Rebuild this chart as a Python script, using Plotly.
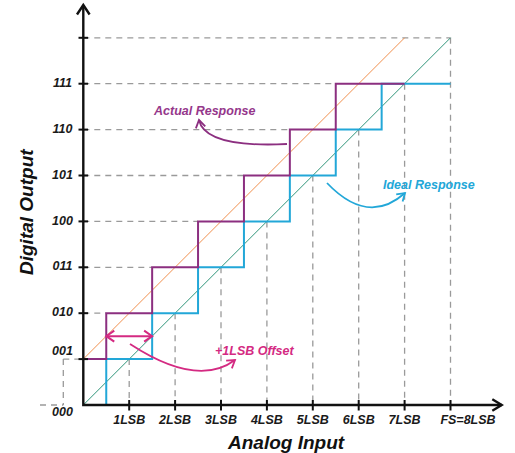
import plotly.graph_objects as go
import numpy as np

# ---------------- data ----------------
codes = ["000", "001", "010", "011", "100", "101", "110", "111"]
x_tick_labels = ["1LSB", "2LSB", "3LSB", "4LSB", "5LSB", "6LSB", "7LSB", "FS=8LSB"]
x_tick_values = [1, 2, 3, 4, 5, 6, 7, 8]
ideal_transitions = [0.5, 1.5, 2.5, 3.5, 4.5, 5.5, 6.5]      # LSB where ideal code steps up
actual_transitions = [0.5, 1.5, 2.5, 3.5, 4.5, 5.5]          # LSB where actual code steps up
actual_start_code = 1                                         # +1LSB offset
full_scale = 8
actual_end = 7

# ---------------- geometry helpers ----------------
OX, OY, S = 83.3, 405.0, 45.9
def X(px): return (px - OX) / S
def Y(py): return (OY - py) / S

FONT = "Liberation Sans"
PURPLE = "#8c2f80"
PURPLE_T = "#95378b"
CYAN = "#22a7d8"
MAGENTA = "#d42a82"
ORANGE = "#f0904e"
TEAL = "#2f957a"
GRAY = "#9a9a9a"

fig = go.Figure()

n = len(codes)
levels = list(range(n))

# ---------------- dashed guide lines ----------------
def dline(x0, y0, x1, y1):
    fig.add_trace(go.Scatter(x=[x0, x1], y=[y0, y1], mode="lines",
                             line=dict(color=GRAY, width=1.3, dash="6px,5px"),
                             hoverinfo="skip"))

# horizontal from axis to actual staircase
for lv, xt in zip(levels[2:], actual_transitions):
    dline(0, lv, xt, lv)
dline(0, full_scale, full_scale, full_scale)
# vertical from ideal diagonal down to the axis
for xv in x_tick_values:
    dline(xv, xv, xv, 0)
# left-side offset guides
xl = X(63.3)
dline(xl, 1, 0, 1)
dline(xl, 1, xl, 0)
dline(X(40), 0, xl, 0)

# ---------------- diagonals ----------------
fig.add_trace(go.Scatter(x=[0, actual_end], y=[actual_start_code, actual_end + actual_start_code],
                         mode="lines", line=dict(color=ORANGE, width=1), hoverinfo="skip"))
fig.add_trace(go.Scatter(x=[0, full_scale], y=[0, full_scale],
                         mode="lines", line=dict(color=TEAL, width=1), hoverinfo="skip"))

# ---------------- staircases ----------------
ideal_x = [0] + ideal_transitions + [full_scale]
ideal_y = levels + [levels[-1]]
fig.add_trace(go.Scatter(x=ideal_x, y=ideal_y, mode="lines", line_shape="hv",
                         line=dict(color=CYAN, width=2), hoverinfo="skip"))
actual_x = [0] + actual_transitions + [actual_end]
actual_y = levels[actual_start_code:] + [levels[-1]]
fig.add_trace(go.Scatter(x=actual_x, y=actual_y, mode="lines", line_shape="hv",
                         line=dict(color=PURPLE, width=2), hoverinfo="skip"))

# ---------------- axes ----------------
AX = "#111111"
fig.add_trace(go.Scatter(x=[0, 0, X(501.7)], y=[Y(5), 0, 0], mode="lines",
                         line=dict(color=AX, width=2.4), hoverinfo="skip"))
# arrow chevrons
fig.add_trace(go.Scatter(x=[X(77.0), 0, X(89.6)], y=[Y(14.5), Y(5), Y(14.5)], mode="lines",
                         line=dict(color=AX, width=2.4), hoverinfo="skip"))
fig.add_trace(go.Scatter(x=[X(492.3), X(501.7), X(492.3)], y=[Y(399.3), 0, Y(410.7)], mode="lines",
                         line=dict(color=AX, width=2.4), hoverinfo="skip"))
# tick marks
for lv in levels[1:] + [full_scale]:
    fig.add_trace(go.Scatter(x=[X(78.5), X(88)], y=[lv, lv], mode="lines",
                             line=dict(color=AX, width=2), hoverinfo="skip"))
for xv in x_tick_values:
    fig.add_trace(go.Scatter(x=[xv, xv], y=[Y(400), Y(410.5)], mode="lines",
                             line=dict(color=AX, width=2), hoverinfo="skip"))

# ---------------- tick labels ----------------
lab_font = dict(family=FONT, size=12.5, color="#1a1a1a", weight="bold", style="italic")
ylab_y = [lv for lv in levels]
ylab_y[0] = Y(413)
ylab_y[1] = Y(352)
fig.add_trace(go.Scatter(x=[X(62.5)] * n, y=ylab_y, mode="text", text=codes,
                         textfont=lab_font, hoverinfo="skip"))
xlab_x = list(x_tick_values)
xlab_x[-1] = X(468)
fig.add_trace(go.Scatter(x=xlab_x, y=[Y(421)] * len(x_tick_values), mode="text",
                         text=x_tick_labels, textfont=lab_font, hoverinfo="skip"))

# ---------------- axis titles ----------------
annotations = [
    dict(x=X(286), y=Y(442), xref="x", yref="y", text="Analog Input", showarrow=False,
         font=dict(family=FONT, size=19, color="#111111", weight="bold", style="italic")),
    dict(x=X(26), y=Y(212), xref="x", yref="y", text="Digital Output", showarrow=False,
         textangle=-90,
         font=dict(family=FONT, size=19, color="#111111", weight="bold", style="italic")),
    dict(x=X(204), y=Y(111), xref="x", yref="y", text="Actual Response", showarrow=False,
         font=dict(family=FONT, size=12.5, color=PURPLE_T, weight="bold", style="italic")),
    dict(x=X(429), y=Y(184.5), xref="x", yref="y", text="Ideal Response", showarrow=False,
         font=dict(family=FONT, size=12.5, color=CYAN, weight="bold", style="italic")),
    dict(x=X(254), y=Y(350.5), xref="x", yref="y", text="+1LSB Offset", showarrow=False,
         font=dict(family=FONT, size=12.5, color=MAGENTA, weight="bold", style="italic")),
]

# ---------------- curved arrows ----------------
shapes = []
def chevron(tip, frm, color, L=7.5, W=4.8, width=1.8):
    t = np.array(tip, float); f = np.array(frm, float)
    d = t - f; d /= np.linalg.norm(d)
    nrm = np.array([-d[1], d[0]])
    a = t - L * d + W * nrm
    b = t - L * d - W * nrm
    fig.add_trace(go.Scatter(x=[X(a[0]), X(t[0]), X(b[0])], y=[Y(a[1]), Y(t[1]), Y(b[1])],
                             mode="lines", line=dict(color=color, width=width), hoverinfo="skip"))

def curved(p0, c, p2, color):
    shapes.append(dict(type="path", xref="x", yref="y",
                       path=f"M {X(p0[0])},{Y(p0[1])} Q {X(c[0])},{Y(c[1])} {X(p2[0])},{Y(p2[1])}",
                       line=dict(color=color, width=1.8)))
    chevron(p2, c, color)

curved((287, 144), (205, 148), (199, 120), PURPLE)
curved((327, 183), (368, 226), (405, 193), CYAN)
curved((130, 344), (197.5, 388), (235, 360), MAGENTA)

# double-headed +1LSB arrow at midway between codes 001 and 010
ymid = (levels[1] + levels[2]) / 2
fig.add_trace(go.Scatter(x=[actual_transitions[0], ideal_transitions[1]], y=[ymid, ymid],
                         mode="lines", line=dict(color=MAGENTA, width=2), hoverinfo="skip"))
xa_px = OX + actual_transitions[0] * S
xb_px = OX + ideal_transitions[1] * S
ym_px = OY - ymid * S
chevron((xa_px, ym_px), (xb_px, ym_px), MAGENTA, L=8, W=5.5, width=2)
chevron((xb_px, ym_px), (xa_px, ym_px), MAGENTA, L=8, W=5.5, width=2)

fig.update_layout(
    width=515, height=453,
    margin=dict(l=0, r=0, t=0, b=0),
    paper_bgcolor="white", plot_bgcolor="white",
    showlegend=False,
    xaxis=dict(range=[X(0), X(515)], visible=False, fixedrange=True),
    yaxis=dict(range=[Y(453), Y(0)], visible=False, fixedrange=True),
    annotations=annotations,
    shapes=shapes,
)
fig.write_html("out.html", config={"displayModeBar": False},
               post_script="document.body.style.margin='0';document.body.style.overflow='hidden';")
